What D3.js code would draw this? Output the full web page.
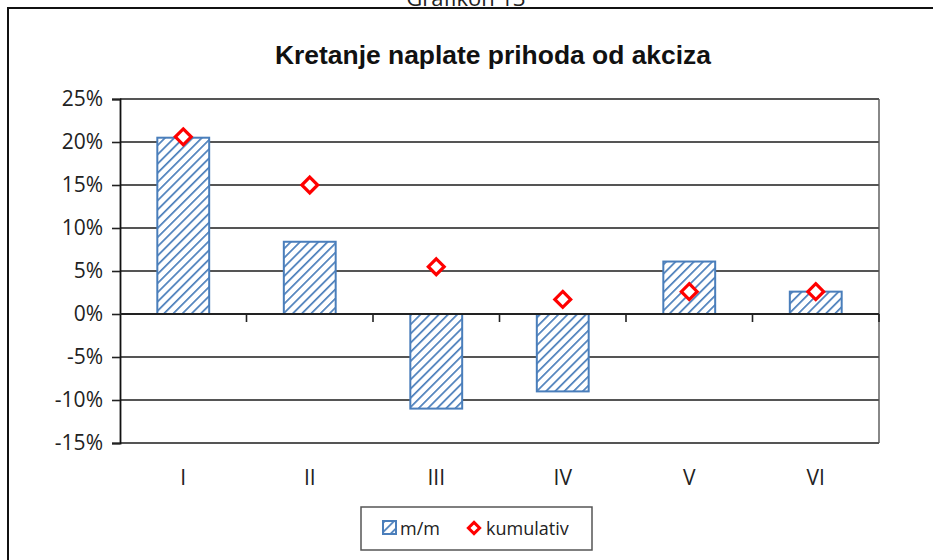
<!DOCTYPE html>
<html>
<head>
<meta charset="utf-8">
<script src="https://d3js.org/d3.v7.min.js"></script>
<style>
  body { margin: 0; background: #fff; }
  text { font-family: "Open Sans", "DejaVu Sans", sans-serif; fill: #222; }
</style>
</head>
<body>
<div id="main"></div>
<script>
// chart data
var categories = ["I", "II", "III", "IV", "V", "VI"];
var mm = [20.5, 8.4, -11.0, -9.0, 6.1, 2.6];          // m/m, %
var kumulativ = [20.6, 15.0, 5.5, 1.7, 2.6, 2.6];     // kumulativ, %
var yTicks = [-15, -10, -5, 0, 5, 10, 15, 20, 25];

var width = 933, height = 560;
var margin = {top: 99, right: 54, bottom: 117, left: 120};
var plotW = width - margin.left - margin.right,
    plotH = height - margin.top - margin.bottom;

var svg = d3.select("#main").append("svg")
    .attr("width", width)
    .attr("height", height);

// hatch pattern for bars
var defs = svg.append("defs");
var pat = defs.append("pattern")
    .attr("id", "hatch")
    .attr("patternUnits", "userSpaceOnUse")
    .attr("width", 6.5).attr("height", 6.5)
    .attr("patternTransform", "rotate(45)");
pat.append("rect").attr("width", 6.5).attr("height", 6.5).attr("fill", "#fff");
pat.append("line")
    .attr("x1", 0).attr("y1", 0).attr("x2", 0).attr("y2", 6.5)
    .attr("stroke", "#4a7ebb").attr("stroke-width", 3.4);

// outer chart frame (extends past the right and bottom edges)
svg.append("rect")
    .attr("x", 8).attr("y", 8)
    .attr("width", 940).attr("height", 570)
    .attr("fill", "none").attr("stroke", "#111").attr("stroke-width", 2);

// caption above the frame, cut off by the top edge as in the source
svg.append("text")
    .attr("x", 466).attr("y", 6)
    .attr("text-anchor", "middle")
    .style("font-size", "22px")
    .text("Grafikon 13");

svg.append("text")
    .attr("x", 493).attr("y", 64)
    .attr("text-anchor", "middle")
    .attr("textLength", 436).attr("lengthAdjust", "spacingAndGlyphs")
    .style("font-family", "'Liberation Sans Narrow', 'Liberation Sans', Arial, sans-serif")
    .style("font-weight", "bold")
    .style("font-size", "25px")
    .style("fill", "#111")
    .text("Kretanje naplate prihoda od akciza");

var g = svg.append("g")
    .attr("transform", "translate(" + margin.left + "," + margin.top + ")");

var x = d3.scaleBand()
    .domain(categories)
    .range([0, plotW])
    .padding(0);

var y = d3.scaleLinear()
    .domain([-15, 25])
    .range([plotH, 0]);

// plot area border (right side)
g.append("line")
    .attr("x1", plotW).attr("x2", plotW)
    .attr("y1", 0).attr("y2", plotH)
    .attr("stroke", "#888").attr("stroke-width", 2);

// gridlines
g.append("g")
  .selectAll("line")
  .data(yTicks)
  .enter().append("line")
    .attr("x1", 0).attr("x2", plotW)
    .attr("y1", function(d) { return y(d); })
    .attr("y2", function(d) { return y(d); })
    .attr("stroke", function(d) { return d === 0 ? "#222" : "#555"; })
    .attr("stroke-width", 1.8);

// y axis
var yAxis = g.append("g")
    .call(d3.axisLeft(y).tickValues(yTicks).tickSize(8).tickPadding(9)
      .tickFormat(function(d) { return d + "%"; }));
yAxis.select(".domain").attr("stroke", "#111").attr("stroke-width", 1.8);
yAxis.selectAll(".tick line").attr("stroke", "#222").attr("stroke-width", 1.6);
yAxis.selectAll("text")
    .style("font-size", "21px")
    .style("font-family", "'Open Sans', sans-serif")
    .attr("fill", "#222");

// bars
var barW = x.bandwidth() * 0.41;
g.append("g")
  .selectAll("rect")
  .data(mm)
  .enter().append("rect")
    .attr("x", function(d, i) { return x(categories[i]) + (x.bandwidth() - barW) / 2; })
    .attr("y", function(d) { return y(Math.max(0, d)); })
    .attr("width", barW)
    .attr("height", function(d) { return Math.abs(y(d) - y(0)); })
    .attr("fill", "url(#hatch)")
    .attr("stroke", "#4a7ebb")
    .attr("stroke-width", 2);

// x axis on zero line, ticks between categories
var xTicks = categories.map(function(c) { return x(c) + x.bandwidth(); });
g.append("g")
  .selectAll("line")
  .data(xTicks)
  .enter().append("line")
    .attr("x1", function(d) { return d; }).attr("x2", function(d) { return d; })
    .attr("y1", y(0)).attr("y2", y(0) + 8)
    .attr("stroke", "#222").attr("stroke-width", 1.6);
g.append("line")
    .attr("x1", 0).attr("x2", plotW)
    .attr("y1", y(0)).attr("y2", y(0))
    .attr("stroke", "#222").attr("stroke-width", 1.8);

// category labels
g.append("g")
  .selectAll("text")
  .data(categories)
  .enter().append("text")
    .attr("x", function(d) { return x(d) + x.bandwidth() / 2; })
    .attr("y", plotH + 42)
    .attr("text-anchor", "middle")
    .style("font-size", "21px")
    .text(function(d) { return d; });

// kumulativ markers
var diamond = d3.symbol().type(d3.symbolDiamond2).size(160);
g.append("g")
  .selectAll("path")
  .data(kumulativ)
  .enter().append("path")
    .attr("d", diamond)
    .attr("transform", function(d, i) {
      return "translate(" + (x(categories[i]) + x.bandwidth() / 2) + "," + y(d) + ")";
    })
    .attr("fill", "#fff")
    .attr("stroke", "#ff0000")
    .attr("stroke-width", 3.2);

// legend
var leg = svg.append("g").attr("transform", "translate(361,507)");
leg.append("rect")
    .attr("width", 231).attr("height", 43)
    .attr("fill", "#fff").attr("stroke", "#555").attr("stroke-width", 1.5);
leg.append("rect")
    .attr("x", 22).attr("y", 14).attr("width", 13).attr("height", 13)
    .attr("fill", "url(#hatch)").attr("stroke", "#4a7ebb").attr("stroke-width", 2);
leg.append("text")
    .attr("x", 39).attr("y", 28)
    .style("font-size", "18px")
    .text("m/m");
leg.append("path")
    .attr("d", d3.symbol().type(d3.symbolDiamond2).size(80))
    .attr("transform", "translate(113,21)")
    .attr("fill", "#fff").attr("stroke", "#ff0000").attr("stroke-width", 3);
leg.append("text")
    .attr("x", 125).attr("y", 28)
    .style("font-size", "18px")
    .text("kumulativ");
</script>
</body>
</html>
